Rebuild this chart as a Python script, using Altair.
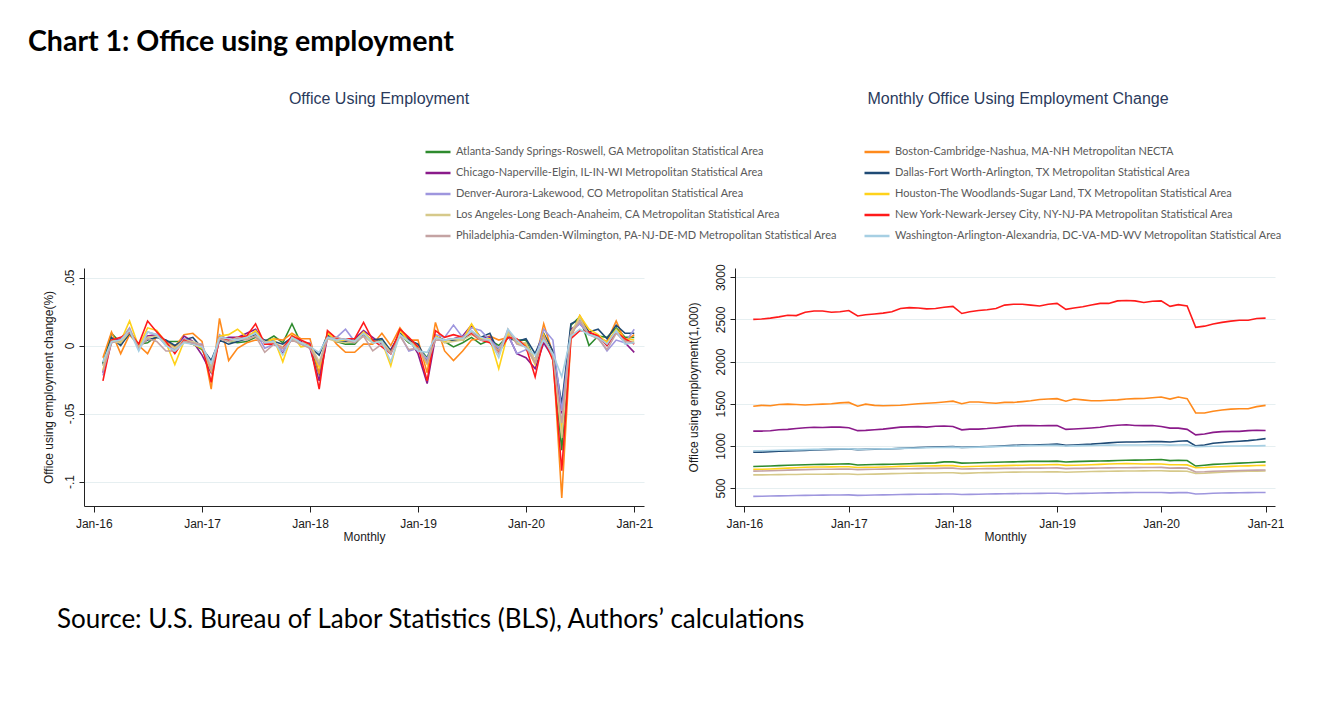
import altair as alt
import pandas as pd

# ---------------- data ----------------
MONTHS = [f"{2016 + (i + 1) // 12}-{(i + 1) % 12 + 1:02d}-01T00:00:00" for i in range(60)]  # Feb-16 .. Jan-21

SERIES = [
    "Atlanta-Sandy Springs-Roswell, GA Metropolitan Statistical Area",
    "Boston-Cambridge-Nashua, MA-NH Metropolitan NECTA",
    "Chicago-Naperville-Elgin, IL-IN-WI Metropolitan Statistical Area",
    "Dallas-Fort Worth-Arlington, TX Metropolitan Statistical Area",
    "Denver-Aurora-Lakewood, CO Metropolitan Statistical Area",
    "Houston-The Woodlands-Sugar Land, TX Metropolitan Statistical Area",
    "Los Angeles-Long Beach-Anaheim, CA Metropolitan Statistical Area",
    "New York-Newark-Jersey City, NY-NJ-PA Metropolitan Statistical Area",
    "Philadelphia-Camden-Wilmington, PA-NJ-DE-MD Metropolitan Statistical Area",
    "Washington-Arlington-Alexandria, DC-VA-MD-WV Metropolitan Statistical Area",
]
COLORS = ["#2e8b2e", "#ff8a1c", "#8a1a8a", "#1f4a75", "#9e96de",
          "#ffd21a", "#d6c98a", "#ff1a1a", "#c4a3a3", "#a6cfe3"]
# legend is filled column by column: left column = even entries, right column = odd entries
LEGEND_ORDER = [0, 2, 4, 6, 8, 1, 3, 5, 7, 9]

# monthly change (left panel)
ATL_CHG = [-0.013, 0.009, 0.002, 0.008, 0.001, 0.002, 0.007, 0.003, 0.003, 0.003, 0.001, -0.003,
           -0.016, 0.006, 0.003, 0.002, 0.003, 0.006, 0.003, 0.007, 0.002, 0.016, 0.002, 0.001,
           -0.021, 0.007, 0.003, 0.001, 0.001, 0.008, 0.002, 0.004, -0.004, 0.008, 0.002, -0.001,
           -0.009, 0.007, 0.003, -0.001, 0.002, 0.006, 0.001, 0.004, 0.000, 0.007, 0.004, 0.004,
           -0.012, 0.005, -0.008, -0.077, 0.015, 0.021, 0.000, 0.007, 0.006, 0.013, 0.006, 0.006]
BOS_CHG = [-0.009, 0.010, -0.006, 0.008, 0.000, -0.006, 0.007, 0.003, -0.001, 0.008, 0.009, 0.003,
           -0.032, 0.020, -0.011, -0.002, 0.002, 0.004, 0.003, 0.005, 0.004, 0.009, 0.005, 0.005,
           -0.021, 0.010, 0.001, -0.005, -0.005, 0.001, 0.001, 0.009, 0.000, 0.013, 0.004, 0.004,
           -0.020, 0.017, -0.004, -0.011, -0.004, 0.004, 0.005, 0.007, 0.004, 0.006, 0.004, 0.001,
           -0.012, 0.016, -0.006, -0.112, 0.006, 0.022, 0.010, 0.006, 0.003, 0.018, 0.003, 0.008]
CHI_CHG = [-0.020, 0.003, 0.005, 0.011, -0.002, 0.007, 0.008, 0.002, -0.005, 0.007, 0.003, -0.007,
           -0.020, 0.004, 0.006, 0.006, 0.009, 0.012, 0.002, 0.003, -0.006, 0.005, 0.003, -0.002,
           -0.026, 0.006, 0.005, 0.004, 0.005, 0.011, 0.006, 0.001, -0.003, 0.009, 0.005, -0.006,
           -0.028, 0.006, 0.004, 0.005, 0.007, 0.015, 0.006, 0.006, -0.003, 0.008, -0.006, -0.009,
           -0.017, 0.002, -0.009, -0.050, 0.012, 0.016, 0.009, 0.007, 0.000, 0.010, 0.002, -0.005]
DAL_CHG = [-0.014, 0.006, 0.000, 0.009, 0.001, 0.004, 0.006, 0.004, 0.000, 0.004, 0.006, -0.002,
           -0.011, 0.004, 0.001, 0.003, 0.005, 0.008, 0.004, 0.003, 0.001, 0.006, 0.002, -0.001,
           -0.007, 0.008, 0.003, 0.003, 0.004, 0.008, 0.004, 0.005, -0.004, 0.009, 0.004, 0.001,
           -0.012, 0.006, 0.004, 0.004, 0.004, 0.010, 0.006, 0.009, -0.005, 0.006, 0.003, 0.005,
           -0.006, 0.009, -0.004, -0.043, 0.016, 0.019, 0.010, 0.012, 0.005, 0.015, 0.009, 0.009]
DEN_CHG = [-0.022, 0.002, 0.004, 0.013, -0.003, 0.010, 0.008, 0.000, -0.003, 0.005, 0.002, 0.001,
           -0.017, 0.008, 0.004, 0.005, 0.007, 0.010, -0.002, 0.001, -0.004, 0.006, 0.002, 0.002,
           -0.015, 0.006, 0.006, 0.012, 0.003, 0.009, 0.003, 0.002, -0.006, 0.008, -0.004, -0.002,
           -0.010, 0.008, 0.006, 0.015, 0.006, 0.013, 0.011, 0.004, -0.002, 0.008, -0.006, -0.003,
           -0.010, 0.012, 0.004, -0.048, 0.010, 0.016, 0.008, 0.006, -0.004, 0.004, 0.002, 0.012]
HOU_CHG = [-0.018, 0.004, 0.003, 0.018, -0.001, 0.013, 0.011, 0.002, -0.014, 0.003, 0.001, -0.002,
           -0.019, 0.007, 0.008, 0.012, 0.006, 0.011, 0.002, 0.005, -0.012, 0.008, -0.001, 0.000,
           -0.016, 0.009, 0.004, 0.004, 0.003, 0.010, 0.003, 0.003, -0.015, 0.011, 0.003, -0.002,
           -0.014, 0.007, 0.003, 0.005, 0.004, 0.016, 0.005, 0.005, -0.017, 0.009, 0.002, 0.000,
           -0.014, 0.008, -0.010, -0.062, 0.008, 0.022, 0.012, 0.008, 0.002, 0.012, 0.005, 0.004]
LA_CHG = [-0.015, 0.003, 0.002, 0.010, 0.000, 0.006, 0.007, 0.002, -0.002, 0.004, 0.003, 0.000,
          -0.016, 0.005, 0.003, 0.004, 0.005, 0.007, 0.003, 0.002, -0.001, 0.005, 0.002, 0.001,
          -0.012, 0.005, 0.003, 0.002, 0.003, 0.007, 0.002, 0.003, -0.005, 0.007, 0.003, -0.001,
          -0.013, 0.006, 0.002, 0.003, 0.004, 0.008, 0.004, 0.003, -0.004, 0.010, 0.002, 0.002,
          -0.011, 0.006, -0.007, -0.068, 0.010, 0.020, 0.008, 0.007, 0.001, 0.010, 0.003, 0.003]
NY_CHG = [-0.026, 0.004, 0.006, 0.010, 0.001, 0.018, 0.010, 0.003, -0.006, 0.004, 0.001, 0.000,
          -0.027, 0.006, 0.004, 0.006, 0.007, 0.016, 0.001, 0.001, -0.002, 0.007, 0.004, 0.001,
          -0.032, 0.011, 0.005, 0.005, 0.005, 0.017, 0.004, -0.001, -0.006, 0.012, 0.006, -0.001,
          -0.026, 0.011, 0.006, 0.008, 0.006, 0.009, 0.004, 0.002, -0.005, 0.006, 0.005, -0.001,
          -0.023, 0.006, -0.011, -0.092, 0.005, 0.011, 0.010, 0.007, 0.000, 0.010, 0.005, 0.001]
PHI_CHG = [-0.019, 0.002, 0.004, 0.012, -0.002, 0.005, 0.003, -0.004, -0.004, 0.003, 0.002, 0.000,
           -0.018, 0.005, 0.003, 0.006, 0.004, 0.007, -0.005, 0.001, -0.002, 0.004, 0.001, -0.002,
           -0.014, 0.005, 0.006, 0.004, 0.002, 0.007, -0.004, 0.001, -0.006, 0.007, -0.003, -0.002,
           -0.013, 0.004, 0.004, 0.005, 0.006, 0.010, 0.004, 0.004, -0.006, 0.012, 0.001, -0.001,
           -0.013, 0.006, -0.008, -0.057, 0.008, 0.018, 0.008, 0.005, -0.003, 0.009, 0.003, 0.002]
WAS_CHG = [-0.012, 0.003, 0.004, 0.011, -0.004, 0.010, 0.008, 0.000, -0.004, 0.002, 0.001, -0.001,
           -0.013, 0.006, 0.005, 0.004, 0.006, 0.009, 0.002, 0.003, -0.007, 0.006, 0.002, -0.001,
           -0.005, 0.006, 0.004, 0.005, 0.003, 0.009, 0.002, 0.003, -0.012, 0.008, 0.003, -0.004,
           -0.005, 0.006, 0.004, 0.005, 0.005, 0.011, 0.006, 0.004, -0.009, 0.012, 0.004, -0.002,
           -0.007, 0.004, -0.006, -0.023, 0.007, 0.012, 0.008, 0.006, 0.001, 0.011, 0.001, 0.002]

# employment level, thousands (right panel)
ATL_LVL = [755, 757, 760, 765, 770, 772, 775, 778, 780, 782, 785, 788,
           772, 775, 778, 780, 782, 785, 788, 792, 795, 798, 810, 810,
           795, 797, 800, 803, 805, 808, 810, 812, 815, 815, 815, 818,
           808, 812, 815, 818, 820, 822, 825, 828, 830, 832, 835, 838,
           825, 828, 825, 760, 770, 780, 785, 790, 795, 800, 805, 810]
BOS_LVL = [1470, 1480, 1475, 1490, 1495, 1490, 1485, 1490, 1495, 1500, 1510, 1515,
           1470, 1495, 1480, 1475, 1478, 1482, 1490, 1500, 1505, 1512, 1520, 1530,
           1500, 1520, 1520, 1512, 1505, 1515, 1515, 1525, 1535, 1550, 1555, 1560,
           1530, 1555, 1545, 1535, 1535, 1540, 1545, 1555, 1560, 1562, 1570, 1580,
           1555, 1580, 1560, 1390, 1390, 1410, 1425, 1435, 1440, 1440, 1465, 1480]
CHI_LVL = [1175, 1175, 1178, 1190, 1195, 1205, 1215, 1220, 1218, 1222, 1222, 1215,
           1180, 1183, 1190, 1198, 1210, 1222, 1225, 1228, 1222, 1232, 1235, 1230,
           1190, 1198, 1198, 1205, 1215, 1225, 1235, 1240, 1240, 1238, 1240, 1242,
           1195, 1200, 1205, 1212, 1220, 1235, 1245, 1250, 1242, 1240, 1242, 1230,
           1210, 1210, 1195, 1130, 1140, 1160, 1168, 1172, 1172, 1180, 1185, 1182]
DAL_LVL = [925, 925, 930, 935, 940, 942, 945, 950, 955, 958, 960, 962,
           955, 958, 960, 962, 965, 970, 975, 980, 983, 985, 988, 990,
           982, 985, 988, 992, 995, 1000, 1005, 1008, 1010, 1012, 1015, 1020,
           1005, 1010, 1015, 1020, 1028, 1035, 1042, 1045, 1045, 1048, 1050, 1050,
           1045, 1055, 1060, 1000, 1010, 1030, 1040, 1048, 1055, 1062, 1072, 1085]
DEN_LVL = [400, 402, 404, 406, 408, 410, 412, 414, 415, 416, 417, 418,
           412, 414, 416, 418, 420, 422, 424, 425, 426, 427, 428, 428,
           422, 424, 426, 428, 430, 432, 433, 434, 435, 436, 437, 438,
           432, 434, 436, 438, 440, 442, 444, 445, 446, 446, 447, 447,
           442, 445, 446, 428, 432, 437, 440, 442, 444, 445, 446, 447]
HOU_LVL = [720, 722, 725, 730, 735, 740, 745, 748, 748, 750, 752, 752,
           742, 745, 745, 748, 752, 756, 758, 760, 760, 762, 765, 765,
           752, 755, 758, 760, 762, 765, 768, 770, 772, 772, 775, 778,
           768, 770, 772, 775, 780, 785, 788, 790, 788, 785, 786, 785,
           775, 776, 774, 740, 742, 748, 752, 756, 760, 762, 766, 768]
LA_LVL = [655, 655, 657, 658, 660, 660, 662, 663, 663, 664, 665, 665,
          660, 662, 664, 667, 670, 672, 674, 676, 677, 678, 680, 680,
          673, 676, 680, 682, 684, 686, 688, 689, 690, 690, 691, 692,
          686, 690, 693, 695, 697, 699, 700, 701, 702, 703, 704, 705,
          700, 702, 698, 672, 675, 682, 688, 692, 696, 698, 700, 702]
NY_LVL = [2500, 2505, 2515, 2530, 2550, 2545, 2585, 2600, 2600, 2585, 2590, 2605,
          2540, 2555, 2565, 2575, 2590, 2630, 2640, 2635, 2625, 2630, 2645, 2655,
          2570, 2590, 2605, 2615, 2630, 2670, 2680, 2680, 2670, 2660, 2680, 2690,
          2620, 2635, 2650, 2670, 2690, 2690, 2720, 2725, 2720, 2700, 2715, 2720,
          2655, 2675, 2660, 2405, 2420, 2445, 2465, 2480, 2490, 2490, 2510, 2515]
PHI_LVL = [700, 702, 705, 708, 712, 715, 718, 720, 722, 722, 724, 725,
           718, 720, 722, 724, 726, 728, 728, 730, 732, 733, 735, 735,
           725, 727, 728, 730, 730, 732, 732, 733, 735, 735, 737, 738,
           730, 732, 733, 735, 736, 738, 740, 740, 741, 742, 743, 744,
           736, 738, 735, 690, 692, 698, 702, 705, 708, 710, 712, 714]
WAS_LVL = [940, 942, 945, 948, 950, 952, 955, 958, 960, 962, 963, 965,
           958, 960, 962, 964, 966, 970, 972, 975, 978, 980, 982, 985,
           980, 982, 985, 987, 990, 995, 998, 1000, 1002, 1003, 1005, 1005,
           998, 1000, 1002, 1004, 1006, 1008, 1010, 1010, 1010, 1010, 1012, 1012,
           1008, 1010, 1012, 990, 992, 995, 997, 998, 998, 1000, 1000, 1002]

CHANGE = [ATL_CHG, BOS_CHG, CHI_CHG, DAL_CHG, DEN_CHG, HOU_CHG, LA_CHG, NY_CHG, PHI_CHG, WAS_CHG]
LEVEL = [ATL_LVL, BOS_LVL, CHI_LVL, DAL_LVL, DEN_LVL, HOU_LVL, LA_LVL, NY_LVL, PHI_LVL, WAS_LVL]

CHG_TICKS = [-0.1, -0.05, 0, 0.05]
CHG_TICK_LABELS = ["-.1", "-.05", "0", ".05"]
LVL_TICKS = [500, 1000, 1500, 2000, 2500, 3000]
YEAR_TICKS = [2016, 2017, 2018, 2019, 2020, 2021]


def long_frame(arrays):
    rows = []
    for name, vals in zip(SERIES, arrays):
        for m, v in zip(MONTHS, vals):
            rows.append({"month": m, "series": name, "value": v})
    return pd.DataFrame(rows)


chg_df = long_frame(CHANGE)
lvl_df = long_frame(LEVEL)

AXIS_FONT = "Liberation Sans"
TEXT_COLOR = "#1a1a1a"
TITLE_COLOR = "#2a3a5c"

x_scale = alt.Scale(domain=[alt.DateTime(year=2015, month=11, date=29),
                            alt.DateTime(year=2021, month=2, date=3)])
x_axis = alt.Axis(values=[alt.DateTime(year=y, month=1, date=1) for y in YEAR_TICKS],
                  format="%b-%y", grid=False, labelPadding=6, tickSize=6,
                  titlePadding=2, titleFontWeight="normal")

label_expr = " : ".join(
    f"datum.value < {t + 0.02} ? '{lab}'" for t, lab in zip(CHG_TICKS[:-1], CHG_TICK_LABELS[:-1])
) + f" : '{CHG_TICK_LABELS[-1]}'"

color = alt.Color(
    "series:N",
    scale=alt.Scale(domain=[SERIES[i] for i in LEGEND_ORDER], range=[COLORS[i] for i in LEGEND_ORDER]),
    legend=alt.Legend(title=None, orient="none", legendX=340, legendY=-130, columns=2,
                      columnPadding=22, rowPadding=2, symbolType="stroke",
                      symbolSize=625, symbolStrokeWidth=2.5, labelLimit=600,
                      labelFont="Lato", labelFontSize=11, labelColor="#595959",
                      labelOffset=4),
)

yaxis_common = dict(labelAngle=270, labelAlign="center", labelBaseline="bottom",
                    grid=True, gridColor="#e6eff1", gridWidth=1.2, labelPadding=3,
                    titleFontWeight="normal")


def panel_title(text, dx, offset):
    return alt.TitleParams(text, offset=offset, dx=dx, font=AXIS_FONT, fontSize=16,
                           fontWeight="normal", color=TITLE_COLOR)


left = alt.Chart(chg_df).mark_line(strokeWidth=1.6, clip=True).encode(
    x=alt.X("month:T", title="Monthly", scale=x_scale, axis=x_axis),
    y=alt.Y("value:Q", title="Office using employment change(%)",
            scale=alt.Scale(domain=[-0.118, 0.057], nice=False, zero=False),
            axis=alt.Axis(values=CHG_TICKS, labelExpr=label_expr, titlePadding=8, **yaxis_common)),
    color=color,
).properties(width=560, height=238, title=panel_title("Office Using Employment", 15, 161))

right = alt.Chart(lvl_df).mark_line(strokeWidth=1.6, clip=True).encode(
    x=alt.X("month:T", title="Monthly", scale=x_scale, axis=x_axis),
    y=alt.Y("value:Q", title="Office using employment(1,000)",
            scale=alt.Scale(domain=[286, 3110], nice=False, zero=False),
            axis=alt.Axis(values=LVL_TICKS, format="d", titlePadding=14, **yaxis_common)),
    color=color,
).properties(width=540, height=238,
             title=panel_title("Monthly Office Using Employment Change", 13, 157))

panels = alt.hconcat(left, right, spacing=34).properties(
    title=alt.TitleParams("Source: U.S. Bureau of Labor Statistics (BLS), Authors\u2019 calculations",
                          orient="bottom", anchor="start", baseline="top", offset=65, dx=15,
                          font="Lato", fontSize=26, fontWeight="normal", color="#000000"),
)

chart = alt.vconcat(panels).properties(
    title=alt.TitleParams("Chart 1: Office using employment", anchor="start", dx=-14, offset=34,
                          font="Lato", fontSize=28.5, fontWeight="bold", color="#000000"),
    padding={"left": 20, "top": 20, "right": 0, "bottom": 0},
    background="#ffffff",
).configure_view(
    strokeWidth=0
).configure_axis(
    labelFont=AXIS_FONT, labelFontSize=12, labelColor=TEXT_COLOR,
    titleFont=AXIS_FONT, titleFontSize=12, titleColor=TEXT_COLOR, titleFontWeight="normal",
    domainColor="#222222", tickColor="#222222", tickSize=5, domainWidth=1, tickWidth=1,
)

chart.save("out.html", embed_options={"renderer": "svg", "actions": False})
